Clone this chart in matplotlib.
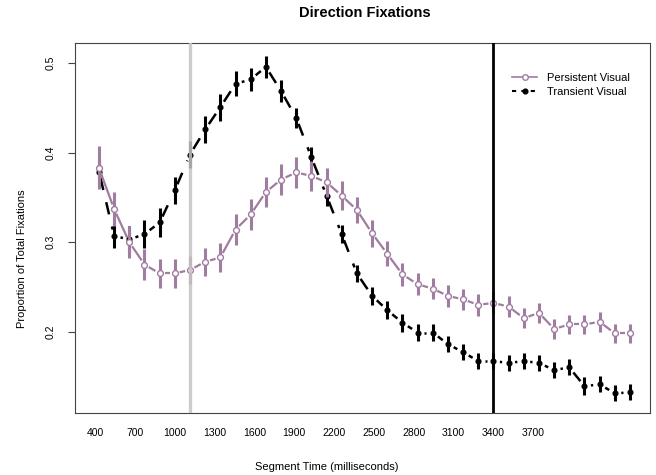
import numpy as np
import matplotlib

matplotlib.use("Agg")
import matplotlib.pyplot as plt
from matplotlib.lines import Line2D

plt.rcParams["font.family"] = ["Liberation Sans", "DejaVu Sans"]

# segment start times (ms)
times = list(range(400, 4000, 100))

persistent = [0.383, 0.337, 0.300, 0.275, 0.265, 0.265, 0.269, 0.278, 0.283, 0.314,
              0.331, 0.356, 0.370, 0.378, 0.374, 0.367, 0.352, 0.336, 0.310, 0.287,
              0.264, 0.253, 0.248, 0.240, 0.236, 0.230, 0.232, 0.228, 0.215, 0.221,
              0.203, 0.208, 0.208, 0.211, 0.198, 0.198]
persistent_err = [0.024, 0.019, 0.018, 0.017, 0.016, 0.016, 0.016, 0.016, 0.016, 0.017,
                  0.017, 0.017, 0.017, 0.017, 0.017, 0.016, 0.016, 0.015, 0.015, 0.014,
                  0.013, 0.012, 0.012, 0.012, 0.012, 0.012, 0.012, 0.012, 0.011, 0.011,
                  0.011, 0.011, 0.011, 0.011, 0.011, 0.011]

transient = [0.379, 0.307, 0.303, 0.309, 0.322, 0.358, 0.398, 0.426, 0.451, 0.477,
             0.482, 0.496, 0.469, 0.439, 0.395, 0.352, 0.309, 0.265, 0.240, 0.224,
             0.210, 0.199, 0.199, 0.186, 0.177, 0.167, 0.167, 0.165, 0.167, 0.165,
             0.157, 0.160, 0.139, 0.141, 0.131, 0.132]
transient_err = [0.014, 0.014, 0.015, 0.016, 0.016, 0.015, 0.015, 0.015, 0.015, 0.014,
                 0.013, 0.012, 0.012, 0.011, 0.011, 0.011, 0.010, 0.010, 0.010, 0.010,
                 0.010, 0.010, 0.009, 0.009, 0.009, 0.009, 0.009, 0.009, 0.009, 0.009,
                 0.009, 0.009, 0.010, 0.009, 0.009, 0.009]

x_labels = ["400", "700", "1000", "1300", "1600", "1900",
            "2200", "2500", "2800", "3100", "3400", "3700"]
y_ticks = [0.2, 0.3, 0.4, 0.5]
markers_at = [1000, 3000]  # vertical reference lines

PURPLE = "#a07ca0"
GREY = "#c4c4c4"

fig = plt.figure(figsize=(6.56, 4.75), dpi=100)
ax = fig.add_axes([75 / 656, 62 / 475, 575 / 656, 370 / 475])
ax.set_xlim(242, 4032)
ax.set_ylim(0.109, 0.5227)


def draw_gapped(ax, x, y, gap_px, **kw):
    """R type='b' style: segments between points, shortened at both ends."""
    pts = ax.transData.transform(np.column_stack([x, y]))
    inv = ax.transData.inverted()
    for p0, p1 in zip(pts[:-1], pts[1:]):
        d = p1 - p0
        length = np.hypot(*d)
        if length <= 2 * gap_px:
            continue
        u = d / length
        a = inv.transform(p0 + u * gap_px)
        b = inv.transform(p1 - u * gap_px)
        ax.plot([a[0], b[0]], [a[1], b[1]], solid_capstyle="butt",
                dash_capstyle="butt", **kw)


t = np.array(times, dtype=float)

# transient (black, dashed)
tr = np.array(transient)
tre = np.array(transient_err)
draw_gapped(ax, t, tr, 6.5, color="black", lw=1.8, ls=(0, (5, 5)), zorder=2)
ax.vlines(t, tr - tre, tr + tre, color="black", lw=2.2, zorder=3)
ax.plot(t, tr, "o", color="black", ms=3.4, zorder=4)

# persistent (purple, solid)
pe = np.array(persistent)
pee = np.array(persistent_err)
draw_gapped(ax, t, pe, 5, color=PURPLE, lw=1.6, ls="-", zorder=5)
ax.vlines(t, pe - pee, pe + pee, color=PURPLE, lw=2.2, zorder=6)
ax.plot(t, pe, "o", mfc="white", mec=PURPLE, mew=1.0, ms=4.2, zorder=7)

# reference lines drawn over the data
ax.axvline(markers_at[0], color=GREY, lw=2.4, alpha=0.85, zorder=10)
ax.axvline(markers_at[1], color="black", lw=2.0, zorder=10)

# axes styling
for s in ax.spines.values():
    s.set_color("#444444")
    s.set_linewidth(0.8)

x_pos = 374 + 262.5 * np.arange(len(x_labels))
ax.set_xticks(x_pos)
ax.set_xticklabels(x_labels, fontsize=7.5)
ax.tick_params(axis="x", length=0, pad=11)

ax.set_yticks(y_ticks)
ax.set_yticklabels([f"{v:.1f}" for v in y_ticks], fontsize=7.5, rotation=90, va="center")
ax.tick_params(axis="y", length=5, width=0.8, color="#444444", pad=9)

fig.text(365 / 656, 1 - 13 / 475, "Direction Fixations", ha="center", va="center",
         fontsize=10.5, fontweight="bold")
fig.text(327 / 656, 1 - 467 / 475, "Segment Time (milliseconds)", ha="center",
         va="center", fontsize=8)
fig.text(22 / 656, 1 - 259 / 475, "Proportion of Total Fixations", ha="center",
         va="center", rotation=90, fontsize=8)

handles = [
    Line2D([], [], color=PURPLE, lw=1.2, marker="o", mfc="white", mec=PURPLE, ms=4),
    Line2D([], [], color="black", lw=1.5, ls=(0, (2, 2.5)), marker="o", ms=3.4),
]
fig.legend(handles, ["Persistent Visual", "Transient Visual"], loc="upper left",
           bbox_to_anchor=(512 / 656, 1 - 73 / 475), frameon=False, fontsize=8,
           handlelength=2.25, handletextpad=0.9, labelspacing=0.35,
           borderpad=0, borderaxespad=0)

fig.savefig("out.png", dpi=100)
